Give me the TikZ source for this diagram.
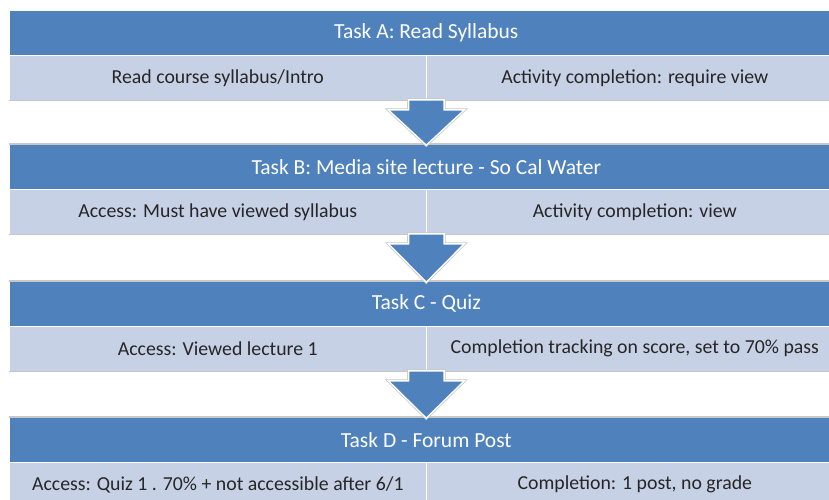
\documentclass[tikz,border=0pt]{standalone}
\usepackage{fontspec}
\setmainfont{Carlito}
\usetikzlibrary{calc}

\definecolor{hdblue}{RGB}{79,129,189}
\definecolor{rowblue}{RGB}{198,209,229}
\definecolor{rowtext}{RGB}{38,38,38}

% block arrow from a row (its south east corner) down to the next header
\newcommand{\taskarrow}[2]{%
	\path[draw=black!22,line width=4.5pt,line join=miter,
		postaction={draw=white,line width=3pt},
		postaction={fill=hdblue}]
		let \p1=(#1.south east), \p2=(#2.north) in
		(\x2-17pt,\y1) -- (\x2+17pt,\y1) -- (\x2+17pt,\y1-10pt) -- (\x2+36pt,\y1-10pt)
		-- (\x2,\y2) -- (\x2-36pt,\y1-10pt) -- (\x2-17pt,\y1-10pt) -- cycle;}

\begin{document}
\begin{tikzpicture}[x=1pt,y=-1pt]
	\useasboundingbox (0,0) rectangle (829,500);
	\tikzset{
		header/.style={fill=hdblue,text=white,draw=white,line width=0.6pt,
			minimum width=834pt,minimum height=45pt,inner sep=0pt,anchor=north west,
			font=\fontsize{21.5}{25}\selectfont},
		cell/.style={fill=rowblue,text=rowtext,draw=white,line width=0.6pt,
			minimum width=417pt,minimum height=45pt,inner sep=0pt,anchor=north west,
			font=\fontsize{19.8}{23}\selectfont},
		gapline/.style={draw=black!22,line width=1.2pt}
	}
	
	\begin{scope}
		\node[header] (hA) at (9,10) {Task A: Read Syllabus};
		\node[cell] (lA) at (9,55) {Read course syllabus/Intro};
		\node[cell] (rA) at (426,55) {Activity completion: require view};
		
		\node[header] (hB) at (9,144) {Task B: Media site lecture - So Cal Water};
		\node[cell] (lB) at (9,189) {Access: Must have viewed syllabus};
		\node[cell] (rB) at (426,189) {Activity completion: view};
		
		\node[header] (hC) at (9,281) {Task C - Quiz};
		\node[cell] (lC) at (9,326) {Access: Viewed lecture 1};
		\node[cell] (rC) at (426,326) {Completion tracking on score, set to 70\% pass};
		
		\node[header] (hD) at (9,417) {Task D - Forum Post};
		\node[cell] (lD) at (9,462) {Access: Quiz 1 . 70\% + not accessible after 6/1};
		\node[cell] (rD) at (426,462) {Completion: 1 post, no grade};
	\end{scope}
	
	% light rules round the white gaps
	\draw[gapline] (lA.south west) -- (rA.south east);
	\draw[gapline] (hB.north west) -- (hB.north east);
	\draw[gapline] (lB.south west) -- (rB.south east);
	\draw[gapline] (hC.north west) -- (hC.north east);
	\draw[gapline] (lC.south west) -- (rC.south east);
	\draw[gapline] (hD.north west) -- (hD.north east);
	
	\taskarrow{lA}{hB}
	\taskarrow{lB}{hC}
	\taskarrow{lC}{hD}
\end{tikzpicture}
\end{document}
